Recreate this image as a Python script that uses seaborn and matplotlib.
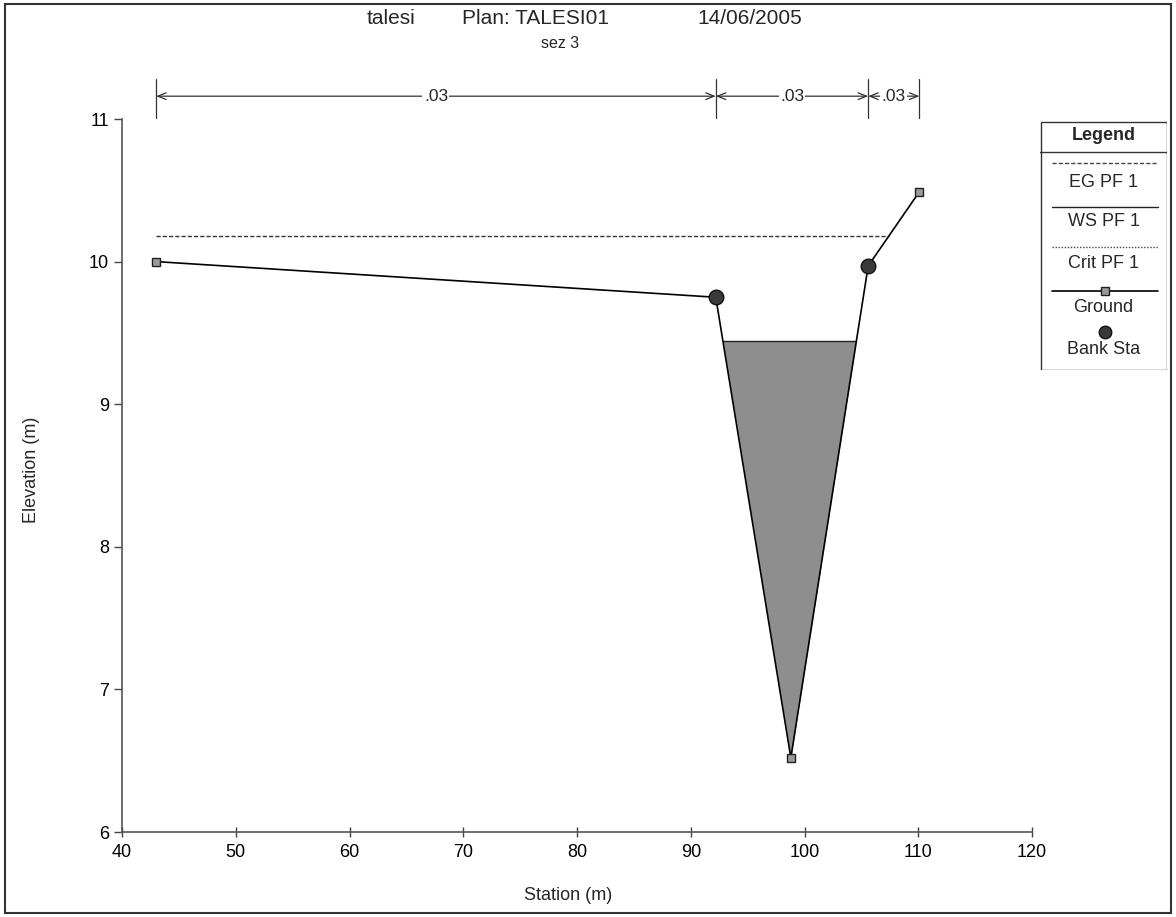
import numpy as np
import pandas as pd
import matplotlib
matplotlib.use("Agg")
import matplotlib.pyplot as plt
import seaborn as sns
from matplotlib.patches import Rectangle

# Cross-section geometry (station, elevation)
station = [43.0, 92.2, 98.8, 105.6, 110.1]
elevation = [10.0, 9.75, 6.52, 9.97, 10.49]
bank_station = [92.2, 105.6]
bank_elevation = [9.75, 9.97]

# Profile results
eg_elev = 10.18
ws_elev = 9.44

# Manning's n regions
mann_bounds = [43.0, 92.2, 105.6, 110.1]
mann_n = [".03", ".03", ".03"]

x_ticks = [40, 50, 60, 70, 80, 90, 100, 110, 120]
y_ticks = [6, 7, 8, 9, 10, 11]

FONT = ["Liberation Sans", "DejaVu Sans"]

sns.set_theme(style="white")
plt.rcParams["font.family"] = FONT

ground = pd.DataFrame({"Station": station, "Elevation": elevation})
banks = pd.DataFrame({"Station": bank_station, "Elevation": bank_elevation})


def level_extent(xs, zs, level):
    """Left/right stations where a water level meets the ground around the thalweg."""
    xs = np.asarray(xs, float)
    zs = np.asarray(zs, float)
    k = int(np.argmin(zs))
    left = xs[0]
    for i in range(k, 0, -1):
        if zs[i - 1] >= level and zs[i] <= level:
            left = xs[i - 1] + (level - zs[i - 1]) / (zs[i] - zs[i - 1]) * (xs[i] - xs[i - 1])
            break
    right = xs[-1]
    for i in range(k, len(xs) - 1):
        if zs[i + 1] >= level and zs[i] <= level:
            right = xs[i] + (level - zs[i]) / (zs[i + 1] - zs[i]) * (xs[i + 1] - xs[i])
            break
    return left, right


W, H = 1176, 917
fig = plt.figure(figsize=(W / 100, H / 100), dpi=100)
fig.patch.set_facecolor("white")

ax = fig.add_axes([122 / W, 1 - 832 / H, 910 / W, 713 / H])
ax.set_facecolor("white")

# Water surface fill
wl, wr = level_extent(station, elevation, ws_elev)
xf = np.concatenate([[wl], [s for s in station if wl < s < wr], [wr]])
zf = np.interp(xf, station, elevation)
ax.fill_between(xf, zf, ws_elev, color="#8e8e8e", lw=0, zorder=1)
ax.plot([wl, wr], [ws_elev, ws_elev], color="#222222", lw=1.0, zorder=2)

# Energy grade line
el, er = level_extent(station, elevation, eg_elev)
ax.plot([el, er], [eg_elev, eg_elev], color="#333333", lw=1.0,
        linestyle=(0, (3, 1.5)), zorder=2)

# Ground profile and bank stations
sns.lineplot(data=ground, x="Station", y="Elevation", sort=False, ax=ax,
             color="black", lw=1.2, marker="s", markersize=6,
             markerfacecolor="#9a9a9a", markeredgecolor="#222222",
             markeredgewidth=1.0, zorder=3)
sns.scatterplot(data=banks, x="Station", y="Elevation", ax=ax, s=110,
                color="#3a3a3a", edgecolor="#111111", linewidth=1.0, zorder=4)

ax.set_xlim(40, 120)
ax.set_ylim(6, 11)
ax.set_xticks(x_ticks)
ax.set_yticks(y_ticks)
ax.set_xticks(np.arange(40, 121, 5), minor=True)
ax.set_yticks(np.arange(6, 11.01, 0.2), minor=True)
ax.tick_params(axis="both", which="both", labelsize=13, colors="#444444",
               labelcolor="black")
ax.tick_params(axis="y", which="major", direction="out", length=6, width=1)
ax.tick_params(axis="y", which="minor", direction="out", length=3, width=1)
ax.tick_params(axis="x", which="major", direction="inout", length=7, width=1, pad=5)
ax.tick_params(axis="x", which="minor", direction="in", length=3, width=1)
ax.tick_params(left=True, bottom=True)
for side in ("top", "right"):
    ax.spines[side].set_visible(False)
for side in ("left", "bottom"):
    ax.spines[side].set_color("#555555")
    ax.spines[side].set_linewidth(1.2)
ax.set_xlabel("")
ax.set_ylabel("")

# Manning's n region brackets above the plot
y_bar, y_lo, y_hi = 11.16, 11.01, 11.28
for b in mann_bounds:
    ax.plot([b, b], [y_lo, y_hi], color="#333333", lw=0.9, clip_on=False)
for i, n in enumerate(mann_n):
    x0, x1 = mann_bounds[i], mann_bounds[i + 1]
    ax.annotate("", xy=(x1, y_bar), xytext=(x0, y_bar),
                arrowprops=dict(arrowstyle="<->,head_length=0.5,head_width=0.2",
                                lw=0.9, color="#333333", shrinkA=0, shrinkB=0),
                annotation_clip=False)
    ax.text((x0 + x1) / 2, y_bar, n, ha="center", va="center", fontsize=12.5,
            bbox=dict(facecolor="white", edgecolor="none", pad=1.0),
            clip_on=False)

# Titles and axis labels
fig.text(367 / W, 1 - 19 / H, "talesi", fontsize=15, va="center", ha="left")
fig.text(462 / W, 1 - 19 / H, "Plan: TALESI01", fontsize=15, va="center", ha="left")
fig.text(697 / W, 1 - 19 / H, "14/06/2005", fontsize=15, va="center", ha="left")
fig.text(560 / W, 1 - 43 / H, "sez 3", fontsize=11.5, va="center", ha="center")
fig.text(32 / W, 1 - 470 / H, "Elevation (m)", fontsize=13, rotation=90,
         va="center", ha="center")
fig.text(568 / W, 1 - 895 / H, "Station (m)", fontsize=13, va="center", ha="center")

# Legend panel
lx0, ly0, lw_, lh_ = 1040, 121, 127, 249
lax = fig.add_axes([lx0 / W, 1 - (ly0 + lh_) / H, lw_ / W, lh_ / H])
lax.set_xlim(0, lw_)
lax.set_ylim(lh_, 0)
lax.axis("off")
lax.add_patch(Rectangle((0.5, 0.5), lw_ - 1, lh_ - 1, fill=False,
                        edgecolor="#333333", lw=1.0))
lax.text(lw_ / 2, 14, "Legend", fontsize=13, fontweight="bold",
         ha="center", va="center")
lax.plot([0, lw_], [31, 31], color="#333333", lw=1.0)
lax.plot([12, 118], [42, 42], color="#444444", lw=1.0, linestyle=(0, (3, 1.5)))
lax.text(lw_ / 2, 61, "EG PF 1", fontsize=13, ha="center", va="center")
lax.plot([12, 118], [86, 86], color="#222222", lw=1.0)
lax.text(lw_ / 2, 100, "WS PF 1", fontsize=13, ha="center", va="center")
lax.plot([12, 118], [126, 126], color="#444444", lw=1.0, linestyle=(0, (1, 1.2)))
lax.text(lw_ / 2, 142, "Crit PF 1", fontsize=13, ha="center", va="center")
lax.plot([12, 118], [170, 170], color="black", lw=1.2)
lax.plot([65], [170], marker="s", markersize=6, markerfacecolor="#9a9a9a",
         markeredgecolor="#222222", linestyle="none")
lax.text(lw_ / 2, 186, "Ground", fontsize=13, ha="center", va="center")
lax.plot([65], [211], marker="o", markersize=9, markerfacecolor="#3a3a3a",
         markeredgecolor="#111111", linestyle="none")
lax.text(lw_ / 2, 228, "Bank Sta", fontsize=13, ha="center", va="center")

# Outer frame
fig.patches.append(Rectangle((5 / W, 4 / H), 1166 / W, 909 / H, fill=False,
                             edgecolor="#333333", lw=1.5,
                             transform=fig.transFigure, figure=fig))

fig.savefig("out.png", dpi=100, facecolor="white")
